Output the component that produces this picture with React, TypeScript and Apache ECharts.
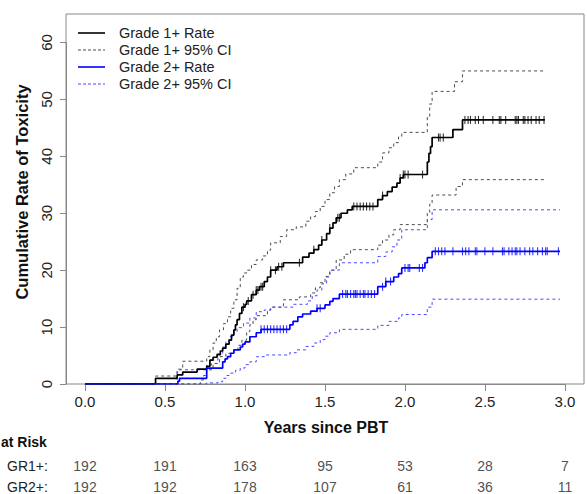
import React, { useEffect, useRef } from "react";
import * as echarts from "echarts";

// ---- Grade 1+ cumulative rate (step: value holds from time onward)
const g1RateT = [0, 0.44, 0.575, 0.61, 0.70, 0.76, 0.78, 0.80, 0.825, 0.845, 0.86, 0.88, 0.90, 0.915, 0.93, 0.94, 0.95, 0.965, 0.98, 1.0, 1.01, 1.04, 1.07, 1.09, 1.12, 1.14, 1.16, 1.20, 1.24, 1.36, 1.40, 1.43, 1.46, 1.48, 1.51, 1.53, 1.55, 1.57, 1.60, 1.64, 1.67, 1.83, 1.86, 1.89, 1.92, 1.95, 1.97, 1.99, 2.14, 2.15, 2.16, 2.17, 2.30, 2.36, 2.875];
const g1RateV = [0, 1.0, 1.6, 2.1, 2.6, 3.1, 4.2, 4.7, 5.2, 5.8, 6.3, 7.0, 7.7, 8.6, 9.5, 10.4, 11.3, 12.4, 13.5, 14.0, 14.6, 15.7, 16.5, 17.1, 18.0, 18.8, 20.0, 20.6, 21.3, 22.3, 23.0, 23.6, 24.4, 25.3, 26.4, 27.4, 28.3, 29.2, 30.0, 30.6, 31.2, 32.4, 33.1, 33.8, 34.6, 35.3, 36.2, 36.8, 39.0, 40.5, 41.7, 43.3, 44.7, 46.4, 46.4];

const g1UpT = [0, 0.44, 0.575, 0.61, 0.76, 0.78, 0.80, 0.82, 0.84, 0.865, 0.89, 0.91, 0.93, 0.95, 0.97, 0.99, 1.01, 1.04, 1.07, 1.11, 1.14, 1.16, 1.22, 1.26, 1.32, 1.38, 1.41, 1.44, 1.47, 1.50, 1.53, 1.56, 1.59, 1.63, 1.68, 1.83, 1.86, 1.90, 1.93, 1.96, 1.98, 2.14, 2.155, 2.17, 2.31, 2.36, 2.875];
const g1UpV = [0, 1.4, 2.6, 4.0, 4.8, 6.0, 7.2, 8.3, 9.5, 10.6, 11.8, 13.3, 14.8, 16.8, 18.8, 19.5, 20.0, 21.0, 21.8, 22.5, 23.5, 24.8, 25.9, 27.1, 27.6, 28.6, 29.4, 30.3, 31.2, 32.4, 33.6, 34.7, 35.9, 36.9, 38.0, 39.0, 40.6, 41.5, 42.4, 43.4, 44.2, 47.0, 49.2, 51.4, 53.1, 55.0, 55.0];

const g1LoT = [0, 0.72, 0.74, 0.76, 0.80, 0.84, 0.88, 0.93, 0.955, 0.98, 1.01, 1.03, 1.05, 1.07, 1.14, 1.16, 1.24, 1.34, 1.41, 1.44, 1.47, 1.50, 1.53, 1.57, 1.62, 1.66, 1.83, 1.86, 1.90, 1.93, 1.97, 2.14, 2.155, 2.17, 2.32, 2.36, 2.875];
const g1LoV = [0, 0.7, 1.5, 2.5, 3.6, 4.8, 5.4, 6.0, 6.8, 7.7, 9.2, 10.4, 11.3, 12.0, 13.0, 13.5, 14.8, 15.3, 16.0, 16.9, 17.8, 18.9, 20.0, 21.8, 22.8, 23.6, 24.4, 25.3, 26.2, 27.1, 28.0, 30.0, 31.6, 33.2, 34.7, 35.9, 35.9];

// ---- Grade 2+ cumulative rate
const g2RateT = [0, 0.58, 0.59, 0.76, 0.86, 0.875, 0.89, 0.91, 0.93, 0.97, 0.985, 1.0, 1.03, 1.07, 1.10, 1.28, 1.30, 1.33, 1.36, 1.41, 1.45, 1.50, 1.53, 1.55, 1.59, 1.83, 1.88, 1.93, 1.96, 1.98, 2.125, 2.14, 2.17, 2.97];
const g2RateV = [0, 0.5, 1.0, 2.8, 3.9, 4.4, 4.8, 5.4, 6.0, 6.5, 7.0, 7.4, 8.3, 9.0, 9.6, 10.4, 11.0, 11.8, 12.3, 12.8, 13.3, 13.9, 14.5, 15.0, 15.8, 17.1, 18.0, 18.8, 19.4, 20.4, 21.3, 22.2, 23.3, 23.3];

const g2UpT = [0, 0.575, 0.59, 0.76, 0.79, 0.83, 0.86, 0.88, 0.90, 0.93, 0.95, 0.99, 1.03, 1.07, 1.12, 1.16, 1.30, 1.39, 1.42, 1.45, 1.48, 1.51, 1.53, 1.59, 1.83, 1.88, 1.92, 1.95, 1.98, 2.14, 2.17, 2.97];
const g2UpV = [0, 2.1, 2.5, 3.3, 4.2, 5.1, 6.5, 7.4, 8.3, 9.2, 9.9, 10.7, 11.6, 12.7, 13.0, 13.5, 14.0, 14.6, 15.5, 16.5, 17.6, 18.8, 20.0, 21.3, 22.4, 23.2, 24.1, 25.3, 27.1, 28.9, 30.6, 30.6];

const g2LoT = [0, 0.76, 0.83, 0.86, 0.88, 0.90, 0.94, 0.97, 1.0, 1.03, 1.07, 1.12, 1.28, 1.32, 1.38, 1.43, 1.47, 1.50, 1.53, 1.59, 1.83, 1.90, 1.96, 1.98, 2.14, 2.17, 2.97];
const g2LoV = [0, 0.2, 0.4, 1.0, 1.5, 1.9, 2.4, 2.8, 3.4, 3.9, 4.8, 5.1, 5.5, 6.0, 6.6, 7.2, 7.8, 8.4, 9.0, 9.6, 10.3, 11.0, 11.6, 12.2, 13.5, 14.9, 14.9];

// ---- censoring times (tick marks on the rate curves)
const g1Censor = [0.99, 1.02, 1.05, 1.07, 1.08, 1.10, 1.11, 1.16, 1.19, 1.21, 1.23, 1.34, 1.43, 1.48, 1.53, 1.58, 1.59, 1.68, 1.70, 1.72, 1.74, 1.76, 1.78, 1.80, 1.86, 1.97, 1.99, 2.00, 2.02, 2.11, 2.21, 2.22, 2.24, 2.375, 2.395, 2.41, 2.44, 2.46, 2.49, 2.55, 2.59, 2.60, 2.63, 2.69, 2.70, 2.71, 2.74, 2.75, 2.77, 2.79, 2.82, 2.84, 2.87];
const g2Censor = [1.10, 1.12, 1.14, 1.16, 1.18, 1.20, 1.22, 1.24, 1.26, 1.45, 1.47, 1.61, 1.63, 1.64, 1.66, 1.68, 1.69, 1.70, 1.72, 1.74, 1.75, 1.77, 1.79, 1.81, 1.86, 1.88, 1.91, 2.00, 2.02, 2.03, 2.09, 2.11, 2.19, 2.21, 2.23, 2.25, 2.30, 2.36, 2.38, 2.40, 2.44, 2.45, 2.50, 2.55, 2.61, 2.62, 2.65, 2.67, 2.69, 2.70, 2.72, 2.75, 2.78, 2.80, 2.83, 2.86, 2.88, 2.89, 2.96];

// ---- numbers at risk
const riskTimes = [0, 0.5, 1.0, 1.5, 2.0, 2.5, 3.0];
const riskGR1 = [192, 191, 163, 95, 53, 28, 7];
const riskGR2 = [192, 192, 178, 107, 61, 36, 11];

const legendLabels = ["Grade 1+ Rate", "Grade 1+ 95% CI", "Grade 2+ Rate", "Grade 2+ 95% CI"];

const FONT = "Arial, 'Liberation Sans', Helvetica, sans-serif";

const pairs = (t: number[], v: number[]) => t.map((x, i) => [x, v[i]]);
const stepAt = (t: number[], v: number[], x: number) => {
  let val = v[0];
  for (let i = 0; i < t.length; i++) if (t[i] <= x) val = v[i];
  return val;
};

export default function App() {
  const ref = useRef<HTMLDivElement>(null);
  useEffect(() => {
    if (!ref.current) return;
    const chart = echarts.init(ref.current, undefined, { renderer: "svg" });
    const black = "#000000";
    const grey = "#4d4d4d";
    const blue = "#0000ff";
    const lblue = "#4a4aff";
    const lineSeries = (name: string, data: number[][], color: string, width: number, dashed: boolean, z: number) => ({
      name,
      type: "line",
      xAxisIndex: 0,
      yAxisIndex: 0,
      step: "end",
      showSymbol: false,
      symbol: "none",
      silent: true,
      z,
      data,
      lineStyle: { color, width, type: dashed ? [3, 3] : "solid" },
    });
    const censorSeries = (data: number[][], color: string) => ({
      type: "scatter",
      xAxisIndex: 0,
      yAxisIndex: 0,
      symbol: "rect",
      symbolSize: [1.1, 8],
      silent: true,
      z: 5,
      itemStyle: { color },
      data,
    });
    const riskSeries = (row: number, vals: number[]) => ({
      type: "scatter", xAxisIndex: 3, yAxisIndex: 3, symbolSize: 1, silent: true,
      itemStyle: { color: "rgba(0,0,0,0)" },
      label: { show: true, position: "inside", formatter: (p: any) => String(p.value[2]), fontSize: 14, color: "#222", fontFamily: FONT },
      data: riskTimes.map((t, i) => [t, row, vals[i]]),
    });
    const legendItems: any[] = [];
    const legendStyles = [
      { color: black, width: 1.6, dash: null },
      { color: grey, width: 1, dash: [3, 2] },
      { color: blue, width: 1.6, dash: null },
      { color: lblue, width: 1, dash: [3, 2] },
    ];
    legendLabels.forEach((lab, i) => {
      const y = 33 + i * 17;
      legendItems.push({
        type: "line",
        shape: { x1: 78, y1: y, x2: 105, y2: y },
        style: { stroke: legendStyles[i].color, lineWidth: legendStyles[i].width, lineDash: legendStyles[i].dash },
      });
      legendItems.push({
        type: "text",
        x: 119,
        y,
        style: { text: lab, fill: "#222", fontSize: 14.5, fontFamily: FONT, align: "left", verticalAlign: "middle" },
      });
    });

    chart.setOption({
      animation: false,
      backgroundColor: "#ffffff",
      grid: [
        { left: 66, right: 3, top: 14, bottom: 110, show: true, borderColor: "#888", borderWidth: 1 },
        { left: 85, right: 22, top: 14, bottom: 110 },
        { left: 66, right: 3, top: 42.46, bottom: 110 },
        { left: 85, right: 22, top: 466, height: 21 },
      ],
      xAxis: [
        { gridIndex: 0, type: "value", min: -0.12, max: 3.12, show: false },
        {
          gridIndex: 1, type: "value", min: 0, max: 3, interval: 0.5,
          axisLine: { show: true, lineStyle: { color: "#888", width: 1 } },
          axisTick: { show: true, length: 7, lineStyle: { color: "#888" } },
          axisLabel: { formatter: (v: number) => v.toFixed(1), fontSize: 15, color: "#222", fontFamily: FONT, margin: 10 },
          splitLine: { show: false },
        },
        { gridIndex: 2, type: "value", min: 0, max: 1, show: false },
        { gridIndex: 3, type: "value", min: 0, max: 3, show: false },
      ],
      yAxis: [
        { gridIndex: 0, type: "value", min: 0, max: 65, show: false },
        { gridIndex: 1, type: "value", min: 0, max: 1, show: false },
        {
          gridIndex: 2, type: "value", min: 0, max: 60, interval: 10,
          axisLine: { show: true, lineStyle: { color: "#888", width: 1 } },
          axisTick: { show: true, length: 6, lineStyle: { color: "#888" } },
          axisLabel: { rotate: 90, fontSize: 15, color: "#222", fontFamily: FONT, margin: 12 },
          splitLine: { show: false },
        },
        { gridIndex: 3, type: "value", min: 0, max: 1, show: false },
      ],
      series: [
        lineSeries("Grade 1+ 95% CI upper", pairs(g1UpT, g1UpV), grey, 1, true, 2),
        lineSeries("Grade 1+ 95% CI lower", pairs(g1LoT, g1LoV), grey, 1, true, 2),
        lineSeries("Grade 2+ 95% CI upper", pairs(g2UpT, g2UpV), lblue, 1, true, 2),
        lineSeries("Grade 2+ 95% CI lower", pairs(g2LoT, g2LoV), lblue, 1, true, 2),
        lineSeries("Grade 1+ Rate", pairs(g1RateT, g1RateV), black, 1.7, false, 3),
        lineSeries("Grade 2+ Rate", pairs(g2RateT, g2RateV), blue, 1.7, false, 3),
        censorSeries(g1Censor.map((t) => [t, stepAt(g1RateT, g1RateV, t)]), black),
        censorSeries(g2Censor.map((t) => [t, stepAt(g2RateT, g2RateV, t)]), blue),
        riskSeries(1, riskGR1),
        riskSeries(0, riskGR2),
      ],
      graphic: [
        ...legendItems,
        {
          type: "text", x: 22, y: 192, rotation: Math.PI / 2,
          style: { text: "Cumulative Rate of Toxicity", fill: "#111", fontSize: 16.5, fontWeight: "bold", fontFamily: FONT, align: "center", verticalAlign: "middle" },
        },
        {
          type: "text", x: 326, y: 427,
          style: { text: "Years since PBT", fill: "#111", fontSize: 16, fontWeight: "bold", fontFamily: FONT, align: "center", verticalAlign: "middle" },
        },
        {
          type: "text", x: 1, y: 442,
          style: { text: "at Risk", fill: "#111", fontSize: 14, fontWeight: "bold", fontFamily: FONT, align: "left", verticalAlign: "middle" },
        },
        {
          type: "text", x: 7, y: 466,
          style: { text: "GR1+:", fill: "#222", fontSize: 14, fontFamily: FONT, align: "left", verticalAlign: "middle" },
        },
        {
          type: "text", x: 7, y: 487,
          style: { text: "GR2+:", fill: "#222", fontSize: 14, fontFamily: FONT, align: "left", verticalAlign: "middle" },
        },
      ],
    });
    return () => chart.dispose();
  }, []);
  return <div ref={ref} style={{ position: "fixed", left: 0, top: 0, width: 587, height: 494 }} />;
}
